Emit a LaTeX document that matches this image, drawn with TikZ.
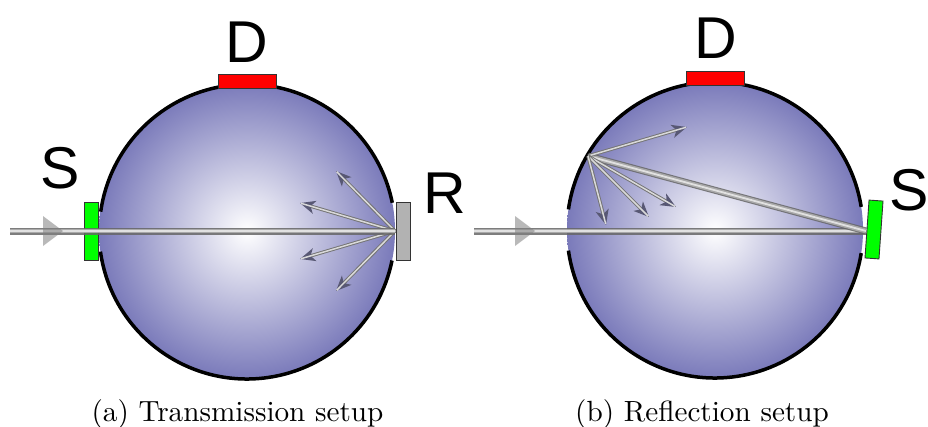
\documentclass[tikz,border=0pt]{standalone}
\usepackage{fontspec}
\newfontfamily\labelfont{Liberation Sans}
\usepackage{tikz}
\usetikzlibrary{arrows.meta,positioning,calc}
\definecolor{rimblue}{RGB}{122,122,186}
\definecolor{headslate}{RGB}{88,88,116}

\begin{document}
\begin{tikzpicture}[
  x=1pt, y=1pt,
  sphere/.style={circle, inner sep=0pt, outer sep=0pt, minimum size=296pt,
                 inner color=white, outer color=rimblue},
  rim/.style={line width=3.5pt},
  plate/.style={draw=black!80, line width=0.9pt, inner sep=0pt, outer sep=0pt,
                minimum width=14pt, minimum height=58pt},
  detector/.style={plate, fill=red, minimum width=58pt, minimum height=14pt},
  source/.style={plate, fill=green},
  mirror/.style={plate, fill=black!30},
  beam/.style={draw=black!60, line width=7pt, opacity=0.85,
               postaction={draw=black!30, line width=4.8pt},
               postaction={draw=white!92!black, line width=1.8pt}},
  ray/.style={draw=black!55, line width=3.4pt,
              -{Stealth[length=15pt, width=13pt, inset=4pt, color=headslate]},
              postaction={draw=white!85!black, line width=1.5pt, -, shorten >=1pt}},
  marker/.style={fill=black!50, opacity=0.55},
  letter/.style={font=\labelfont\fontsize{59}{63}\selectfont, inner sep=0pt},
  caption/.style={font=\normalsize, inner sep=0pt, scale=2.92, transform shape},
]
  \useasboundingbox (0,0) rectangle (928,-426);

  % Transmission setup
  \node[sphere] (sphereA) at (247,-231) {};
  \draw[rim] (sphereA.11.5) arc[start angle=11.5, end angle=172, radius=148pt];
  \draw[rim] (sphereA.188) arc[start angle=188, end angle=348.5, radius=148pt];

  \node[detector] (detA) at (247,-81.5) {};
  \node[source] (srcA) at (91,-231) {};
  \node[mirror] (mirA) at (403.5,-231) {};

  \coordinate (inA) at (10,-231);
  \coordinate (hitA) at (395,-231);
  \foreach \n/\x/\y in {1/336/171, 2/300/203, 3/300/259, 4/336/291} {
    \coordinate (rayA\n) at (\x,-\y);
    \draw[ray] (hitA) -- (rayA\n);
  }
  \draw[beam] (inA) -- (hitA);
  \fill[marker] (43,-216) -- (63,-231) -- (43,-246) -- cycle;

  \node[letter] (labelDA) at (247,-42) {D};
  \node[letter] (labelSA) at (60.5,-168) {S};
  \node[letter] (labelRA) at (444.5,-193) {R};
  \node[caption] (capA) at (237.5,-414) {(a) Transmission setup};

  % Reflection setup
  \node[sphere] (sphereB) at (715,-230) {};
  \draw[rim] (sphereB.9) arc[start angle=9, end angle=172, radius=148pt];
  \draw[rim] (sphereB.188) arc[start angle=188, end angle=351, radius=148pt];

  \node[detector] (detB) at (715,-78) {};
  \node[source, rotate=-4] (srcB) at (874,-229.5) {};

  \coordinate (inB) at (474,-231);
  \coordinate (hitB) at (866,-231);
  \coordinate (spotB) at (588,-156);
  \draw[beam] (inB) -- (hitB);
  \draw[beam] (spotB) -- (hitB);
  \foreach \n/\x/\y in {1/687/127, 2/676/207, 3/649/217, 4/606/225} {
    \coordinate (rayB\n) at (\x,-\y);
    \draw[ray] (spotB) -- (rayB\n);
  }
  \fill[marker] (515,-216) -- (535,-231) -- (515,-246) -- cycle;

  \node[letter] (labelDB) at (716,-38) {D};
  \node[letter] (labelSB) at (909.5,-190) {S};
  \node[caption] (capB) at (702,-414) {(b) Reflection setup};
\end{tikzpicture}
\end{document}
